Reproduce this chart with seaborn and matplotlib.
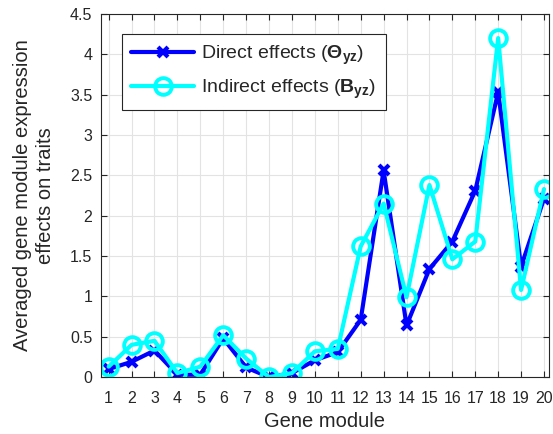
import numpy as np
import pandas as pd
import matplotlib
matplotlib.use("Agg")
import matplotlib.pyplot as plt
import seaborn as sns

modules = list(range(1, 21))
direct_effects = [0.10, 0.19, 0.33, 0.03, 0.03, 0.48, 0.12, 0.00, 0.05, 0.21,
                  0.31, 0.71, 2.56, 0.64, 1.34, 1.68, 2.31, 3.53, 1.37, 2.21]
indirect_effects = [0.13, 0.40, 0.45, 0.05, 0.13, 0.52, 0.23, 0.00, 0.05, 0.32,
                    0.35, 1.62, 2.15, 0.99, 2.38, 1.46, 1.68, 4.20, 1.08, 2.33]
y_ticks = [0, 0.5, 1, 1.5, 2, 2.5, 3, 3.5, 4, 4.5]
y_tick_labels = ["0", "0.5", "1", "1.5", "2", "2.5", "3", "3.5", "4", "4.5"]

sns.set_style("whitegrid")
plt.rcParams["font.family"] = ["Liberation Sans", "DejaVu Sans"]
plt.rcParams["mathtext.fontset"] = "custom"
plt.rcParams["mathtext.rm"] = "Liberation Sans"
plt.rcParams["mathtext.bf"] = "Liberation Sans:bold"
plt.rcParams["mathtext.it"] = "Liberation Sans:italic"

df = pd.DataFrame({"module": modules,
                   "direct": direct_effects,
                   "indirect": indirect_effects})

fig = plt.figure(figsize=(5.53, 4.34), dpi=100)
ax = fig.add_axes([0.182, 0.131, 0.810, 0.837])

sns.lineplot(data=df, x="module", y="direct", ax=ax, color="#0000ff",
             linewidth=3, marker="x", markersize=7, markeredgewidth=3,
             markeredgecolor="#0000ff",
             label=r"Direct effects ($\mathbf{\Theta_{yz}}$)")
sns.lineplot(data=df, x="module", y="indirect", ax=ax, color="#00ffff",
             linewidth=3, marker="o", markersize=12, markeredgewidth=2.8,
             markerfacecolor="none", markeredgecolor="#00ffff",
             label=r"Indirect effects ($\mathbf{B_{yz}}$)")

ax.set_xlim(0.65, 20.2)
ax.set_ylim(0, 4.5)
ax.set_xticks(modules)
ax.set_xticklabels([str(m) for m in modules])
ax.set_yticks(y_ticks)
ax.set_yticklabels(y_tick_labels)
ax.tick_params(axis="both", direction="in", length=4, width=0.8,
               labelsize=11.5, colors="#262626", top=True, right=True,
               bottom=True, left=True)
ax.tick_params(axis="x", pad=10)
ax.tick_params(axis="y", pad=6)
ax.grid(True, color="#e3e3e3", linewidth=0.8)
for s in ax.spines.values():
    s.set_color("#262626")
    s.set_linewidth(0.8)
    s.set_visible(True)

ax.set_xlabel("Gene module", fontsize=14.5, color="#262626", labelpad=4)
ax.set_ylabel("Averaged gene module expression\neffects on traits",
              fontsize=14.5, color="#262626", labelpad=11, linespacing=1.25)

leg = ax.legend(loc="upper left", bbox_to_anchor=(0.047, 0.945), fontsize=14,
                frameon=True, fancybox=False, framealpha=1, edgecolor="#262626",
                handlelength=3.2, handletextpad=0.4, borderpad=0.5,
                borderaxespad=0, labelspacing=0.55)
leg.get_frame().set_linewidth(0.8)

fig.savefig("out.png", dpi=100)
